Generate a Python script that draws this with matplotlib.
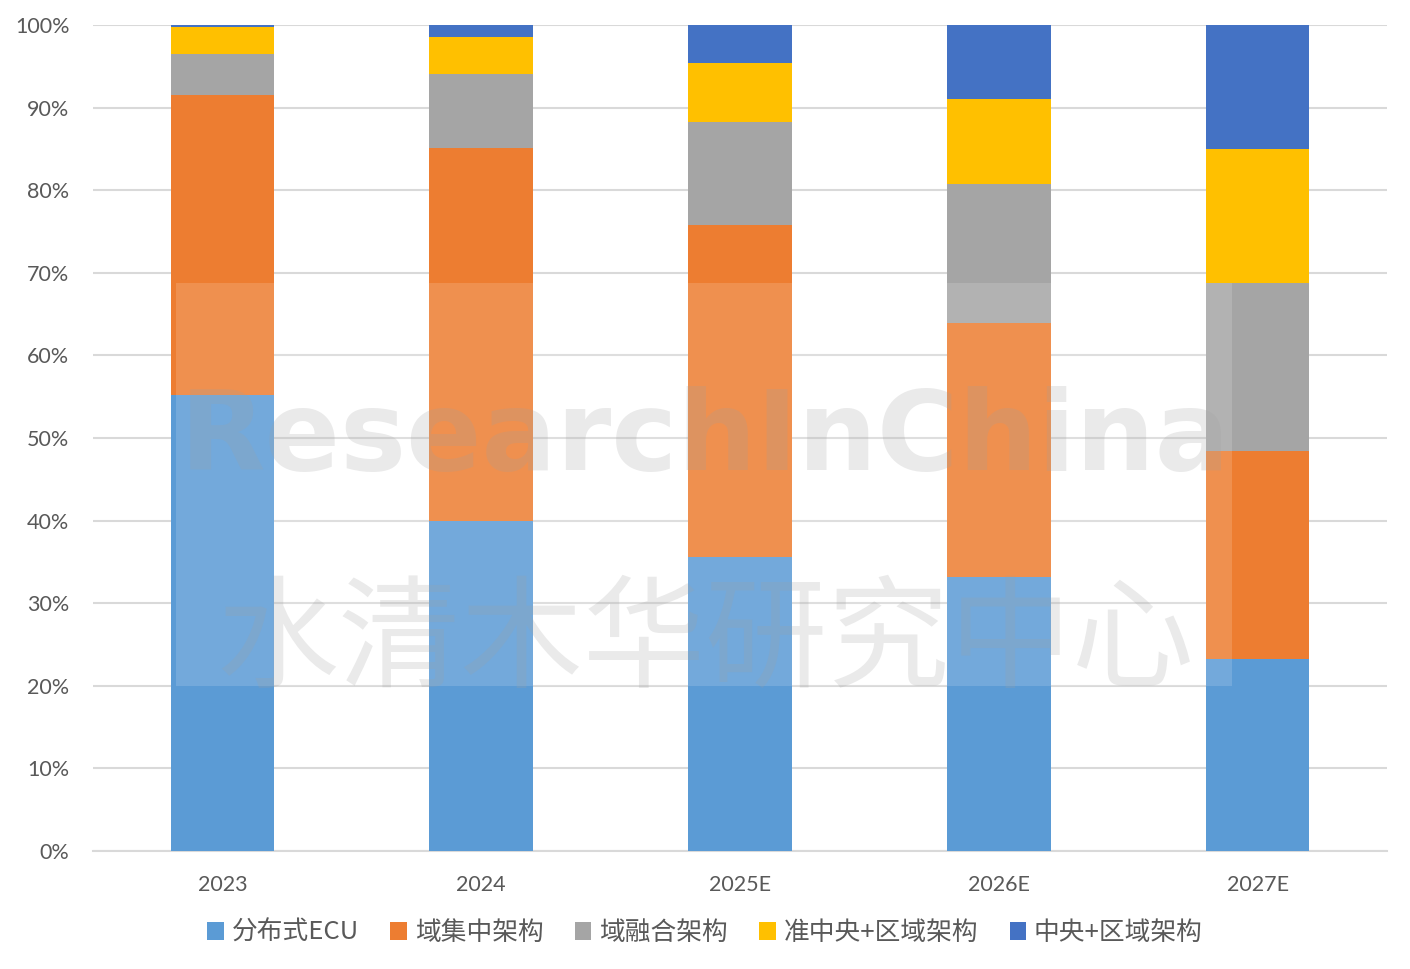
import matplotlib.pyplot as plt
import numpy as np
from matplotlib.patches import Rectangle

plt.rcParams['font.family'] = ['Lato', 'Noto Sans CJK SC', 'DejaVu Sans']

years = ['2023', '2024', '2025E', '2026E', '2027E']
series = ['分布式ECU', '域集中架构', '域融合架构', '准中央+区域架构', '中央+区域架构']
ecu = [55.2, 40.0, 35.6, 33.2, 23.2]
domain = [36.3, 45.1, 40.2, 30.7, 25.2]
fusion = [5.0, 9.0, 12.5, 16.9, 20.4]
quasi = [3.3, 4.4, 7.1, 10.2, 16.2]
central = [0.2, 1.5, 4.6, 9.0, 15.0]
colors = ['#5B9BD5', '#ED7D31', '#A5A5A5', '#FFC000', '#4472C4']

fig = plt.figure(figsize=(14.1, 9.69), dpi=100)
ax = fig.add_axes([0.066, 0.1218, 0.9177, 0.8524])

x = np.arange(len(years))
bottom = np.zeros(len(years))
for vals, name, c in zip([ecu, domain, fusion, quasi, central], series, colors):
    ax.bar(x, vals, 0.4, bottom=bottom, color=c, label=name, zorder=3)
    bottom += np.array(vals)

ax.set_xlim(-0.5, 4.5)
ax.set_ylim(0, 100)
ax.set_yticks(np.arange(0, 101, 10))
ax.set_yticklabels([f'{v}%' for v in range(0, 101, 10)])
ax.set_xticks(x)
ax.set_xticklabels(years)
ax.grid(axis='y', color='#D9D9D9', lw=1.5, zorder=0)
for s in ['top', 'right', 'left']:
    ax.spines[s].set_visible(False)
ax.spines['bottom'].set_color('#D9D9D9')
ax.spines['bottom'].set_linewidth(1.5)
ax.tick_params(axis='both', length=0, labelsize=15.5, colors='#595959')
ax.tick_params(axis='x', pad=17)
ax.tick_params(axis='y', pad=17)

# watermark
fig.patches.append(Rectangle((176 / 1410, 1 - 686 / 969), (1232 - 176) / 1410, (686 - 283) / 969,
                             transform=fig.transFigure, facecolor='white', alpha=0.15,
                             edgecolor='none', zorder=5))
fig.text(0.5, 1 - 440 / 969, 'ResearchInChina', ha='center', va='center', fontsize=80,
         fontweight='bold', color='#A0A0A0', alpha=0.22,
         family=['DejaVu Sans'], zorder=6)
fig.text(0.5, 1 - 643 / 969, '水清木华研究中心', ha='center', va='center', fontsize=88,
         color='#A0A0A0', alpha=0.22, family=['Noto Sans CJK SC'], zorder=6)

fig.legend(loc='center', bbox_to_anchor=(0.5, 1 - 933 / 969), ncol=5, frameon=False,
           handlelength=0.65, handleheight=0.65, handletextpad=0.3, columnspacing=1.22,
           prop={'family': ['Noto Sans CJK SC'], 'size': 18.5}, labelcolor='#595959')

fig.savefig('out.png', dpi=100)
